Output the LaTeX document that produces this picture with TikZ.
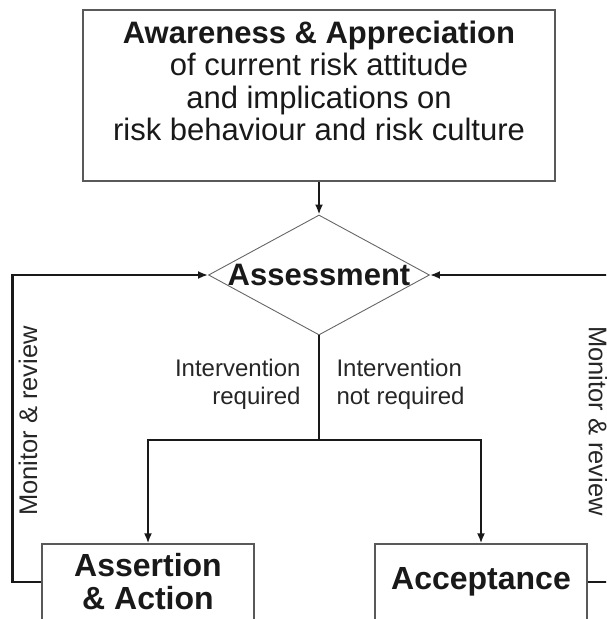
\documentclass[tikz,border=0pt]{standalone}
\usepackage{fontspec}
\setmainfont{Liberation Sans}
\usetikzlibrary{arrows.meta,positioning,shapes.geometric}

\begin{document}
\begin{tikzpicture}[
x=1pt, y=-1pt,
box/.style={draw=black!65, line width=1.3pt, align=center, inner sep=0pt},
decision/.style={draw=black!60, line width=0.9pt, diamond, inner sep=0pt, minimum width=221pt, minimum height=120pt},
bigtext/.style={font=\fontsize{31}{32.5}\selectfont, text=black!90, align=center},
lbl/.style={font=\fontsize{24}{28}\selectfont, text=black!85},
line/.style={line width=2.4pt, black!90},
arrow/.style={line, -{Latex[length=10pt,width=8pt]}}
]
\path[use as bounding box, clip] (0,0) rectangle (606,619);

% boxes
\node[box, minimum width=472pt, minimum height=171pt] (aware) at (319,95.5) {};
\node[bigtext] (awaretxt) at (319,81) {\textbf{Awareness \& Appreciation}\\of current risk attitude\\and implications on\\risk behaviour and risk culture};
\node[decision] (assess) at (319,275) {};
\node[bigtext] (assesstxt) at (assess.center) {\textbf{Assessment}};
\node[box, bigtext, font=\fontsize{32}{33}\selectfont\bfseries, minimum width=212pt, minimum height=76pt] (assert) at (148,582) {Assertion\\\& Action};
\node[box, bigtext, font=\fontsize{32}{33}\selectfont\bfseries, minimum width=212pt, minimum height=76pt] (accept) at (481,582) {Acceptance};

% labels
\node[lbl, align=right, anchor=east] (req) at (304,384) {Intervention\\required};
\node[lbl, align=left, anchor=west] (notreq) at (333,384) {Intervention\\not required};
\node[lbl, font=\fontsize{25.5}{28}\selectfont, rotate=90] (monleft) at (28,421) {Monitor \& review};
\node[lbl, font=\fontsize{25.5}{28}\selectfont, rotate=-90] (monright) at (598,421) {Monitor \& review};

% connectors
\coordinate (split) at (319,440);
\draw[arrow] (aware.south) -- (assess.north);
\draw[line] (assess.south) -- (split);
\draw[arrow] (split) -| (assert.north);
\draw[arrow] (split) -| (accept.north);
\draw[arrow] (assert.west) -- ++(-29,0) |- (assess.west);
\draw[arrow] (accept.east) -- ++(38,0) |- (assess.east);
\end{tikzpicture}
\end{document}
